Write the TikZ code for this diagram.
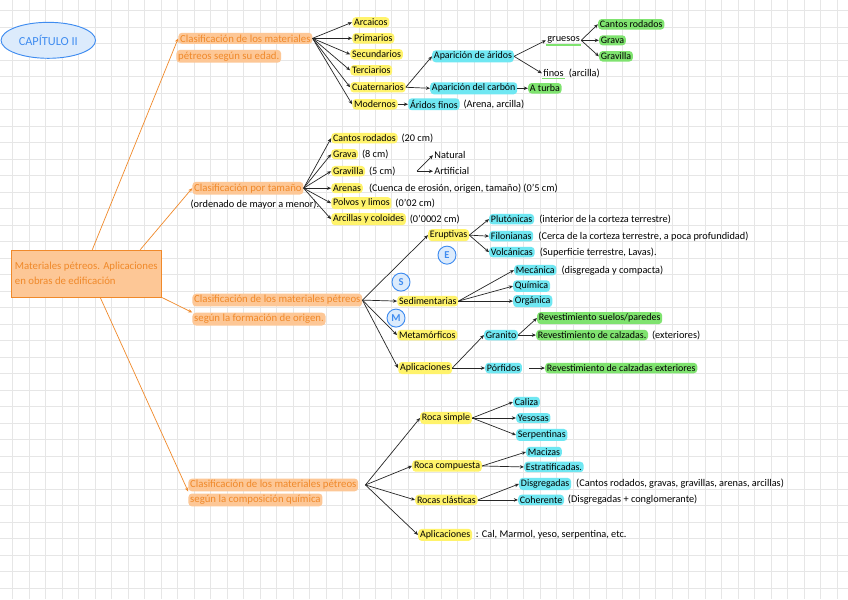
\documentclass[tikz,border=0pt]{standalone}
\usepackage{fontspec}
\setmainfont{Carlito}
\usetikzlibrary{positioning,shapes.geometric,arrows.meta}
\definecolor{hlyellow}{HTML}{FFF36B}
\definecolor{hlcyan}{HTML}{6FE7F2}
\definecolor{hlgreen}{HTML}{7FE36F}
\definecolor{hlorange}{HTML}{FDC796}
\definecolor{orangetext}{HTML}{F0892A}
\definecolor{capblue}{HTML}{3F8CF0}
\definecolor{capfill}{HTML}{DCEBFC}
\definecolor{gridgray}{HTML}{E6E6E6}

\begin{document}
\begin{tikzpicture}[x=0.03cm, y=-0.03cm,
  every node/.style={font=\fontsize{8.8}{10}\selectfont},
  >={Stealth[length=3.5pt,width=3pt]},
  hl/.style={rectangle, rounded corners=3pt, inner sep=1.5pt, anchor=west, font=\fontsize{8.5}{10}\selectfont},
  yel/.style={hl, fill=hlyellow},
  cya/.style={hl, fill=hlcyan},
  grn/.style={hl, fill=hlgreen},
  org/.style={hl, fill=hlorange, text=orangetext, font=\fontsize{9.2}{11}\selectfont},
  note/.style={inner sep=1pt},
  circlab/.style={circle, draw=capblue, fill=capfill, text=capblue, line width=0.8pt, inner sep=0pt, minimum size=0.54cm, font=\fontsize{9}{10}\selectfont\bfseries},
  arr/.style={->, line width=0.6pt, black!85},
  oarr/.style={->, line width=0.6pt, orangetext},
  uline/.style={hlgreen, line width=1.2pt}]

% paper
\fill[white] (0,0) rectangle (848,599);
\foreach \i in {0,...,50}
  \draw[gridgray, line width=0.6pt] ({12.3+16.5*\i},0) -- ++(0,599);
\foreach \j in {0,...,35}
  \draw[gridgray, line width=0.6pt] (0,{10.5+16.5*\j}) -- ++(848,0);
\useasboundingbox (0,0) rectangle (848,599);

\node (capitulo) [ellipse, draw=capblue, fill=capfill, text=capblue, line width=0.8pt, minimum width=2.34cm, minimum height=1.08cm, font=\fontsize{10.5}{12}\selectfont] at (48,40) {CAPÍTULO II};

\node (root) [rectangle, draw=orangetext, fill=hlorange, text=orangetext, line width=0.7pt, align=left, minimum width=4.44cm, minimum height=1.41cm, font=\fontsize{9.2}{13}\selectfont] at (86,273.5) {Materiales pétreos. Aplicaciones\\en obras de edificación};

% edad
\node (edad1) [org] at (178,38) {Clasificación de los materiales};
\node (edad2) [org] at (176,56) {pétreos según su edad.};
\node (arcaicos) [yel] at (352,22) {Arcaicos};
\node (primarios) [yel] at (352,38) {Primarios};
\node (secundarios) [yel] at (350,54) {Secundarios};
\node (terciarios) [yel] at (350,70) {Terciarios};
\node (cuaternarios) [yel] at (350,87) {Cuaternarios};
\node (modernos) [yel] at (352,104) {Modernos};
\node (aridos) [cya] at (432,56) {Aparición de áridos};
\node (carbon) [cya] at (430,88) {Aparición del carbón};
\node (turba) [grn] at (528,88) {A turba};
\node (aridosfinos) [cya] at (408,104) {Áridos finos};
\node (arenaarcilla) [note, right=2pt of aridosfinos] {(Arena, arcilla)};
\node (gruesos) [note, anchor=west] at (546,40) {gruesos};
\node (finos) [note, anchor=west] at (542,73) {finos};
\node (arcilla) [note, right=2pt of finos] {(arcilla)};
\node (cantos1) [grn] at (598,24) {Cantos rodados};
\node (grava1) [grn] at (599,40) {Grava};
\node (gravilla1) [grn] at (599,56) {Gravilla};

\draw[uline] (gruesos.south west) -- (gruesos.south east);
\draw[uline] (finos.south west) -- (finos.south east);

\draw[oarr] ([xshift=0.18cm]root.north) -- (edad1.west);
\foreach \n in {arcaicos,primarios,secundarios,terciarios,cuaternarios,modernos}
  \draw[arr] (edad1.east) -- (\n.west);
\draw[arr] (cuaternarios.east) -- (aridos.west);
\draw[arr] (cuaternarios.east) -- (carbon.west);
\draw[arr] (carbon.east) -- (turba.west);
\draw[arr] (modernos.east) -- (aridosfinos.west);
\draw[arr] (aridos.east) -- (gruesos.west);
\draw[arr] (aridos.east) -- (finos.west);
\foreach \n in {cantos1,grava1,gravilla1}
  \draw[arr] (gruesos.east) -- (\n.west);

% tamano
\node (tamano) [org] at (192,188) {Clasificación por tamaño};
\node (ordenado) [note, anchor=west] at (189,204) {(ordenado de mayor a menor).};
\node (cantos2) [yel] at (331,138) {Cantos rodados};
\node (cantos2note) [note, right=2pt of cantos2] {(20 cm)};
\node (grava2) [yel] at (331,154) {Grava};
\node (grava2note) [note, right=2pt of grava2] {(8 cm)};
\node (gravilla2) [yel] at (331,171) {Gravilla};
\node (gravilla2note) [note, right=2pt of gravilla2] {(5 cm)};
\node (arenas) [yel] at (331,188) {Arenas};
\node (arenasnote) [note, right=4pt of arenas] {(Cuenca de erosión, origen, tamaño) (0'5 cm)};
\node (polvos) [yel] at (331,203) {Polvos y limos};
\node (polvosnote) [note, right=2pt of polvos] {(0'02 cm)};
\node (arcillas) [yel] at (331,219) {Arcillas y coloides};
\node (arcillasnote) [note, right=2pt of arcillas] {(0'0002 cm)};
\node (natural) [note, anchor=west] at (433,155) {Natural};
\node (artificial) [note, anchor=west] at (433,171) {Artificial};
\coordinate (gravsplit) at (417,171);

\draw[oarr] ([xshift=1.62cm]root.north) -- (tamano.west);
\foreach \n in {cantos2,grava2,gravilla2,arenas,polvos,arcillas}
  \draw[arr] (tamano.east) -- (\n.west);
\draw[arr] (gravsplit) -- (natural.west);
\draw[arr] (gravsplit) -- (artificial.west);

% origen
\node (origen1) [org] at (192,300) {Clasificación de los materiales pétreos};
\node (origen2) [org] at (192,319) {según la formación de origen.};
\node (eruptivas) [yel] at (428,235) {Eruptivas};
\node (sedimentarias) [yel] at (397,301) {Sedimentarias};
\node (metamorficos) [yel] at (397,335) {Metamórficos};
\node (aplic1) [yel] at (398,368) {Aplicaciones};
\node (circe) [circlab] at (447,255) {E};
\node (circs) [circlab] at (401,282) {S};
\node (circm) [circlab] at (396,318) {M};
\node (plutonicas) [cya] at (489,219) {Plutónicas};
\node (plutnote) [note, right=3pt of plutonicas] {(interior de la corteza terrestre)};
\node (filonianas) [cya] at (489,236) {Filonianas};
\node (filonote) [note, right=3pt of filonianas] {(Cerca de la corteza terrestre, a poca profundidad)};
\node (volcanicas) [cya] at (489,252) {Volcánicas};
\node (volcnote) [note, right=3pt of volcanicas] {(Superficie terrestre, Lavas).};
\node (mecanica) [cya] at (514,270) {Mecánica};
\node (mecnote) [note, right=3pt of mecanica] {(disgregada y compacta)};
\node (quimica) [cya] at (513,286) {Química};
\node (organica) [cya] at (513,301) {Orgánica};
\node (granito) [cya] at (484,335) {Granito};
\node (porfidos) [cya] at (485,368) {Pórfidos};
\node (suelos) [grn] at (537,318) {Revestimiento suelos/paredes};
\node (calzadas) [grn] at (536,335) {Revestimiento de calzadas.};
\node (calznote) [note, right=2pt of calzadas] {(exteriores)};
\node (exteriores) [grn] at (545,368) {Revestimiento de calzadas exteriores};

\draw[oarr] (root.south east) -- (origen2.north west);
\foreach \n in {eruptivas,sedimentarias,metamorficos,aplic1}
  \draw[arr] (origen1.east) -- (\n.west);
\foreach \n in {plutonicas,filonianas,volcanicas}
  \draw[arr] (eruptivas.east) -- (\n.west);
\foreach \n in {mecanica,quimica,organica}
  \draw[arr] (sedimentarias.east) -- (\n.west);
\draw[arr] (aplic1.east) -- (granito.west);
\draw[arr] (aplic1.east) -- (porfidos.west);
\draw[arr] (granito.east) -- (suelos.west);
\draw[arr] (granito.east) -- (calzadas.west);
\draw[arr, shorten <=6pt] (porfidos.east) -- (exteriores.west);

% composicion
\node (quim1) [org] at (188,485) {Clasificación de los materiales pétreos};
\node (quim2) [org] at (188,500) {según la composición química};
\node (rocasimple) [yel] at (420,418) {Roca simple};
\node (rocacompuesta) [yel] at (412,466) {Roca compuesta};
\node (clasticas) [yel] at (415,500) {Rocas clásticas};
\node (aplic2) [yel] at (418,535) {Aplicaciones};
\node (aplic2note) [note, right=2pt of aplic2] {: Cal, Marmol, yeso, serpentina, etc.};
\node (caliza) [cya] at (513,402) {Caliza};
\node (yesosas) [cya] at (516,418) {Yesosas};
\node (serpentinas) [cya] at (516,435) {Serpentinas};
\node (macizas) [cya] at (526,452) {Macizas};
\node (estratificadas) [cya] at (524,467) {Estratificadas.};
\node (disgregadas) [cya] at (519,484) {Disgregadas};
\node (disgnote) [note, right=3pt of disgregadas] {(Cantos rodados, gravas, gravillas, arenas, arcillas)};
\node (coherente) [cya] at (518,500) {Coherente};
\node (cohnote) [note, right=2pt of coherente] {(Disgregadas + conglomerante)};

\draw[oarr] ([xshift=0.42cm]root.south) -- (quim1.south west);
\foreach \n in {rocasimple,rocacompuesta,clasticas,aplic2}
  \draw[arr] ([xshift=6pt]quim1.east) -- (\n.west);
\foreach \n in {caliza,yesosas,serpentinas}
  \draw[arr] (rocasimple.east) -- (\n.west);
\draw[arr] (rocacompuesta.east) -- (macizas.west);
\draw[arr] (rocacompuesta.east) -- (estratificadas.west);
\draw[arr] (clasticas.east) -- (disgregadas.west);
\draw[arr] (clasticas.east) -- (coherente.west);

\end{tikzpicture}
\end{document}
